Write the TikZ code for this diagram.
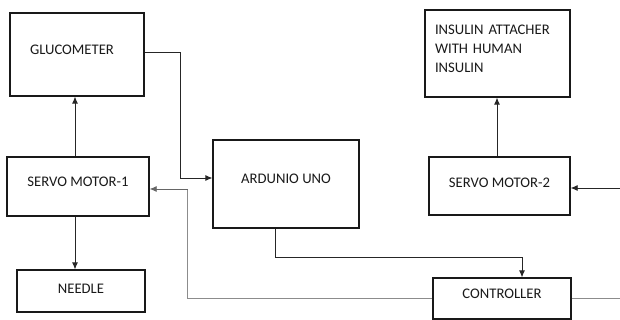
\documentclass[tikz,border=0pt]{standalone}
\usepackage{fontspec}
\setmainfont{Carlito}
\usetikzlibrary{arrows.meta}
\tikzset{
  blk/.style={draw=black!90, line width=1.3pt, text=black!90, inner sep=0pt,
    font=\fontsize{14.67pt}{19pt}\selectfont, text depth=10pt},
  conn/.style={line width=0.8pt, draw=black!85, -{Latex[length=7pt,width=6pt]}},
  feed/.style={line width=0.8pt, draw=black!45},
}

\begin{document}
\begin{tikzpicture}[x=1pt,y=-1pt]
\useasboundingbox (0,0) rectangle (620,320);
\node[blk, minimum width=134pt, minimum height=83pt, align=left, text width=94pt] (gluc) at (77,54.5) {GLUCOMETER};
\node[blk, minimum width=142pt, minimum height=59pt] (servoa) at (78,186.5) {SERVO MOTOR-1};
\node[blk, minimum width=128pt, minimum height=42pt, text depth=4pt] (needle) at (81,291) {NEEDLE};
\node[blk, minimum width=146pt, minimum height=88pt] (ardu) at (286,184) {ARDUNIO UNO};
\node[blk, minimum width=145pt, minimum height=87pt, align=left, text width=125pt, text depth=47pt] (insul) at (497.5,53.5) {INSULIN ATTACHER\\WITH HUMAN\\INSULIN};
\node[blk, minimum width=141pt, minimum height=58pt, text depth=6pt] (servob) at (499.5,186) {SERVO MOTOR-2};
\node[blk, minimum width=138pt, minimum height=41pt] (ctrl) at (502,298.5) {CONTROLLER};
\coordinate (rgtout) at (620,298.5);
\coordinate (rgtin) at (620,188);

\draw[conn] ([yshift=2.5pt]gluc.east) -- ++(36,0) |- ([yshift=6pt]ardu.west);
\draw[conn] ([xshift=-3pt]servoa.north) -- ([xshift=-3pt]servoa.north |- gluc.south);
\draw[conn] ([xshift=-3pt]servoa.south) -- ([xshift=-3pt]servoa.south |- needle.north);
\draw[conn] ([xshift=-11pt]ardu.south) -- ++(0,29) -| ([xshift=20pt]ctrl.north);
\draw[feed] (ctrl.west) -| ([xshift=38pt,yshift=-2.5pt]servoa.east);
\draw[feed, -{Latex[length=7pt,width=6pt]}, draw=black!60] ([xshift=38pt,yshift=-2.5pt]servoa.east) -- ([yshift=-2.5pt]servoa.east);
\draw[feed] (ctrl.east) -- (rgtout);
\draw[conn] (rgtin) -- (servob.east |- rgtin);
\draw[conn] ([xshift=-2.5pt]servob.north) -- ([xshift=-2.5pt]servob.north |- insul.south);
\end{tikzpicture}
\end{document}
